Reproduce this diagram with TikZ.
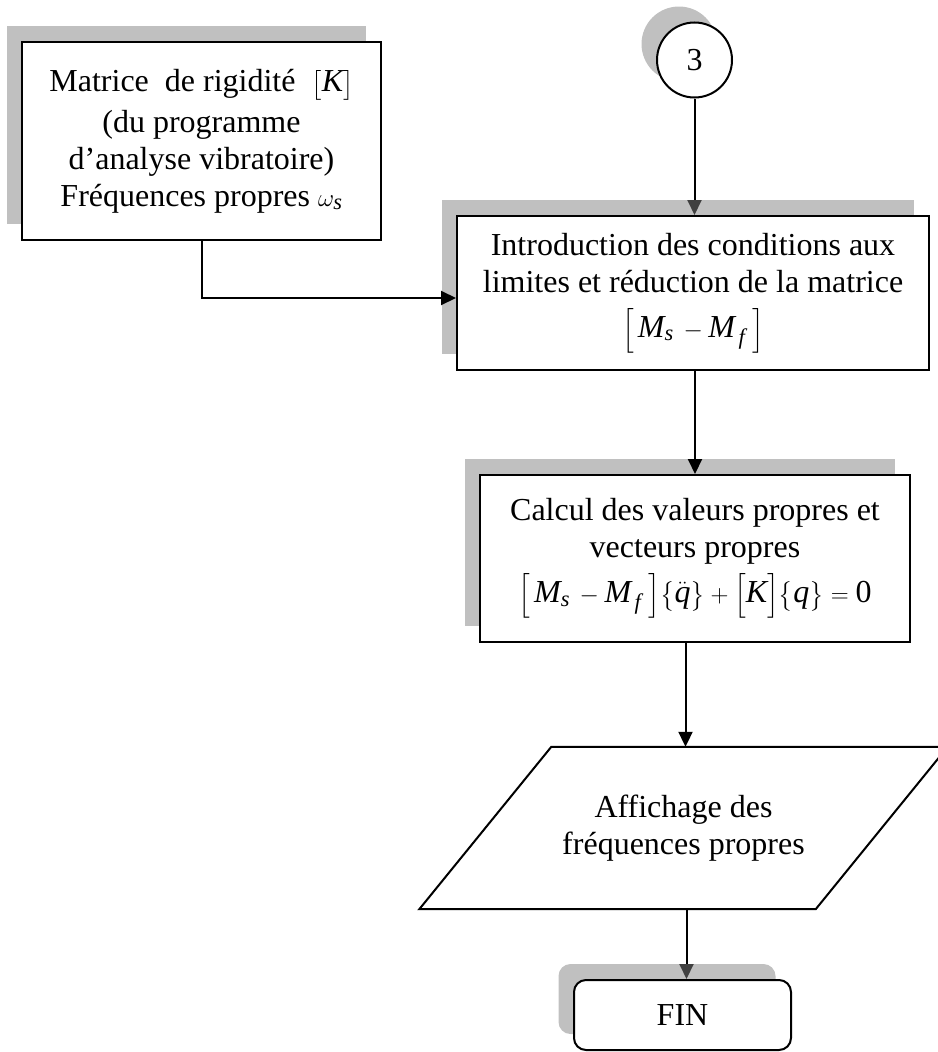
\documentclass[tikz,border=0pt]{standalone}
\usepackage{amsmath}
\usepackage{fontspec}
\setmainfont{Liberation Serif}
\usetikzlibrary{arrows.meta,shadows,backgrounds}
\definecolor{shadowgray}{HTML}{C0C0C0}
\definecolor{tipgray}{HTML}{404040}
\newcommand{\vi}[1]{\textit{#1}}
\newcommand{\MsMf}{\Bigl[\,\vi{M}_{\vi{s}}\,-\vi{M}_{\,\vi{f}}\;\Bigr]}
\begin{document}
\begin{tikzpicture}[x=1pt,y=-1pt,
  every node/.style={font=\fontsize{32}{37}\selectfont, align=center, inner sep=0pt},
  box/.style={draw, line width=2pt, fill=white, rectangle},
  shd/.style={drop shadow={shadow xshift=-15.5pt, shadow yshift=16pt, fill=shadowgray, opacity=1}},
  conn/.style={line width=2pt, -{Triangle[length=15pt,width=14pt]}},
  conng/.style={line width=2pt, -{Triangle[length=15pt,width=14pt,color=tipgray]}}]
\useasboundingbox (0,0) rectangle (937,1052);

% nodes
\node[box, shd, minimum width=359pt, minimum height=198pt] (b1) at (201.5,141)
  {Matrice\ \ de rigidité\ \ $\bigl[\vi{K}\bigr]$\\[4pt](du programme\\d’analyse vibratoire)\\Fréquences propres $\omega_{\vi{s}}$};

\node[box, shd, circle, minimum size=75pt] (c3) at (694.5,60) {3};

\node[box, shd, minimum width=472pt, minimum height=154pt] (b2) at (693,293)
  {Introduction des conditions aux\\limites et réduction de la matrice\\[8pt]$\MsMf$};

\node[box, shd, minimum width=430pt, minimum height=167pt] (b3) at (695,558.5)
  {Calcul des valeurs propres et\\vecteurs propres\\[8pt]$\MsMf\bigl\{\ddot{\vi{q}}\bigr\}+\Bigl[\vi{K}\Bigr]\bigl\{\vi{q}\bigr\}=\text{0}$};

\node[minimum width=264pt, minimum height=162pt] (disp) at (683.5,828)
  {Affichage des\\fréquences propres};

\node[box, shd, rounded corners=12pt, minimum width=217pt, minimum height=70pt] (fin) at (682.5,1015) {FIN};

% parallelogram (display) outline with shadow
\begin{scope}[on background layer]
  \fill[shadowgray, shift={(-15,-15)}] (disp.north west) -- ([xshift=132pt]disp.north east)
    -- (disp.south east) -- ([xshift=-132pt]disp.south west) -- cycle;
  \draw[line width=2pt, fill=white] (disp.north west) -- ([xshift=132pt]disp.north east)
    -- (disp.south east) -- ([xshift=-132pt]disp.south west) -- cycle;
\end{scope}

% connectors
\draw[conng] (c3.south) -- (c3.south |- b2.north);
\draw[conn] (b1.south) |- ([yshift=-5pt]b2.west);
\draw[conn] (b3.north |- b2.south) -- (b3.north);
\draw[conn] ([xshift=2pt]disp.north |- b3.south) -- ([xshift=2pt]disp.north);
\draw[conng] ([xshift=4pt]fin.north |- disp.south) -- ([xshift=4pt]fin.north);
\end{tikzpicture}
\end{document}
